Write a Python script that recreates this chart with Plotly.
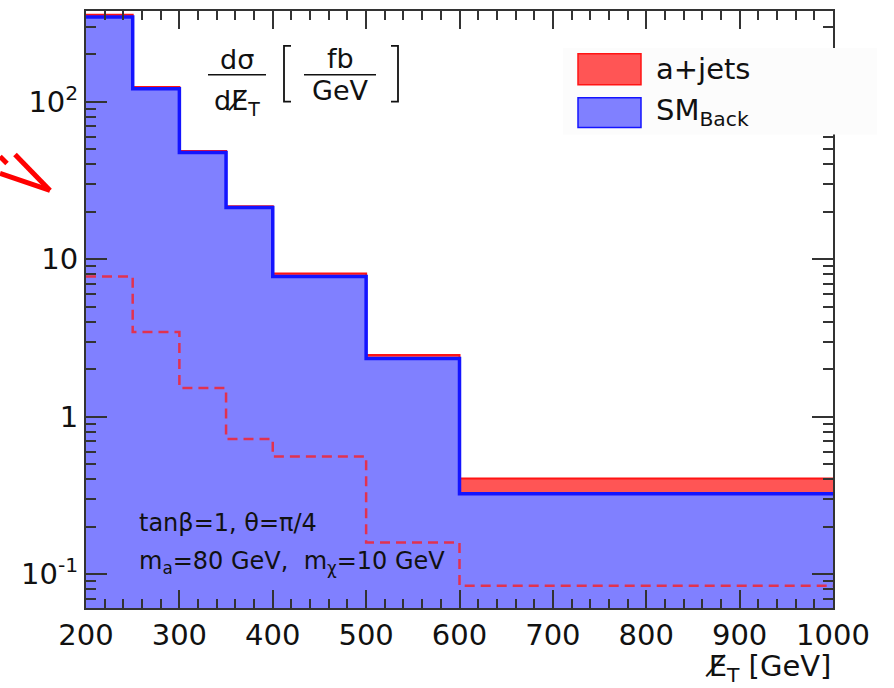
import plotly.graph_objects as go

# ---- data ----
bin_edges = [200, 250, 300, 350, 400, 500, 600, 1000]
sm_back = [345, 121, 47.5, 21.3, 7.77, 2.34, 0.324]          # SM background
total_ajets = [356, 124, 48.7, 21.7, 8.1, 2.46, 0.405]      # SM + a+jets (stacked top)
signal_ajets = [7.77, 3.45, 1.52, 0.722, 0.558, 0.159, 0.0844]  # a+jets alone (dashed)

x_ticks = [200, 300, 400, 500, 600, 700, 800, 900, 1000]
y_tickvals = [0.1, 1, 10, 100]
y_ticktext = ["10<sup>-1</sup>", "1", "10", "10<sup>2</sup>"]

FONT = "DejaVu Sans"
W, H = 894, 688
L, R, T, B = 86, 833, 9, 608


def steps(edges, vals):
    xs, ys = [], []
    for i, v in enumerate(vals):
        xs += [edges[i], edges[i + 1]]
        ys += [v, v]
    return xs, ys


def poly(edges, vals, floor=1e-4):
    xs, ys = steps(edges, vals)
    return [edges[0]] + xs + [edges[-1]], [floor] + ys + [floor]


def px(x):
    return (x - L) / (R - L)


def py(y):
    return (B - y) / (B - T)


fig = go.Figure()

tx, ty = poly(bin_edges, total_ajets)
fig.add_trace(go.Scatter(x=tx, y=ty, fill="toself", mode="lines",
                         fillcolor="rgb(255,85,85)", line=dict(width=0),
                         showlegend=False, hoverinfo="skip"))
bx, by = poly(bin_edges, sm_back)
fig.add_trace(go.Scatter(x=bx, y=by, fill="toself", mode="lines",
                         fillcolor="rgb(128,128,255)", line=dict(width=0),
                         showlegend=False, hoverinfo="skip"))
sx, sy = steps(bin_edges, total_ajets)
fig.add_trace(go.Scatter(x=sx, y=sy, mode="lines",
                         line=dict(color="rgb(255,20,20)", width=2),
                         showlegend=False, hoverinfo="skip"))
sx, sy = steps(bin_edges, sm_back)
fig.add_trace(go.Scatter(x=sx, y=sy, mode="lines",
                         line=dict(color="rgb(20,20,255)", width=3.5),
                         showlegend=False, hoverinfo="skip"))
sx, sy = steps(bin_edges, signal_ajets)
fig.add_trace(go.Scatter(x=sx, y=sy, mode="lines",
                         line=dict(color="rgb(225,50,80)", width=2.5, dash="10px,6px"),
                         showlegend=False, hoverinfo="skip"))

axcol = "#333333"
fig.update_xaxes(range=[200, 1000], tickvals=x_ticks, ticks="inside", ticklen=18,
                 tickwidth=1.5, tickcolor=axcol, showline=True, linecolor=axcol,
                 linewidth=2, mirror="ticks", showgrid=False, zeroline=False,
                 tickfont=dict(family=FONT, size=29, color="#111"),
                 minor=dict(dtick=20, ticks="inside", ticklen=9, tickwidth=1.5,
                            tickcolor=axcol, showgrid=False))
minor_y = [m * 10.0 ** e for e in range(-2, 3) for m in range(2, 10)]
fig.update_yaxes(type="log", range=[-1.215, 2.576], tickvals=y_tickvals,
                 ticktext=y_ticktext, ticks="inside", ticklen=21, tickwidth=1.5,
                 tickcolor=axcol, showline=True, linecolor=axcol, linewidth=2,
                 mirror="ticks", showgrid=False, zeroline=False,
                 tickfont=dict(family=FONT, size=29, color="#111"),
                 minor=dict(tickvals=minor_y, ticks="inside", ticklen=10,
                            tickwidth=1.5, tickcolor=axcol, showgrid=False))

shapes = []
ann = []


def text(x, y, s, size, xanchor="center", yanchor="middle"):
    ann.append(dict(x=px(x), y=py(y), xref="paper", yref="paper", text=s,
                    showarrow=False, xanchor=xanchor, yanchor=yanchor,
                    font=dict(family=FONT, size=size, color="#111")))


def line(x0, y0, x1, y1, color="#111", width=1.5):
    shapes.append(dict(type="line", xref="paper", yref="paper",
                       x0=px(x0), y0=py(y0), x1=px(x1), y1=py(y1),
                       line=dict(color=color, width=width)))


# fraction label  dσ/dE̸T [fb/GeV]
text(237, 58, "dσ", 27)
line(208, 73, 266, 73)
text(237, 101, "dE\u0338<sub>T</sub>", 27)
shapes.append(dict(type="path", xref="paper", yref="paper",
                   path=f"M {px(291)} {py(44)} L {px(284)} {py(44)} L {px(284)} {py(100)} L {px(291)} {py(100)}",
                   line=dict(color="#111", width=1.8)))
text(340, 57, "fb", 27)
line(304, 73, 376, 73)
text(340, 89, "GeV", 27)
shapes.append(dict(type="path", xref="paper", yref="paper",
                   path=f"M {px(391)} {py(44)} L {px(398)} {py(44)} L {px(398)} {py(100)} L {px(391)} {py(100)}",
                   line=dict(color="#111", width=1.8)))

# legend (manual)
shapes.append(dict(type="rect", xref="paper", yref="paper", x0=px(563), x1=px(877),
                   y0=py(46), y1=py(133), fillcolor="rgb(252,252,252)",
                   line=dict(width=0), layer="above"))
shapes.append(dict(type="rect", xref="paper", yref="paper", x0=px(578), x1=px(641),
                   y0=py(52), y1=py(83), fillcolor="rgb(255,85,85)",
                   line=dict(color="rgb(255,20,20)", width=1.5)))
shapes.append(dict(type="rect", xref="paper", yref="paper", x0=px(578), x1=px(641),
                   y0=py(96), y1=py(126), fillcolor="rgb(128,128,255)",
                   line=dict(color="rgb(20,20,255)", width=1.5)))
text(654, 67, "a+jets", 29, xanchor="left")
text(654, 110, "SM<sub>Back</sub>", 29, xanchor="left")

# parameter text
text(137, 523, "tanβ=1, θ=π/4", 24, xanchor="left")
text(137, 562, "m<sub>a</sub>=80 GeV,  m<sub>χ</sub>=10 GeV", 24, xanchor="left")

# x-axis title
text(833, 668, "E\u0338<sub>T</sub> [GeV]", 29, xanchor="right")

# red pen mark on the left
for (x0, y0, x1, y1) in [(15, 153, 50, 189), (0, 172, 50, 189), (0, 155, 7, 162)]:
    shapes.append(dict(type="line", xref="paper", yref="paper", x0=px(x0), y0=py(y0),
                       x1=px(x1), y1=py(y1), line=dict(color="rgb(255,0,0)", width=5)))

fig.update_layout(width=W, height=H, margin=dict(l=L, r=W - R, t=T, b=H - B),
                  paper_bgcolor="white", plot_bgcolor="white",
                  shapes=shapes, annotations=ann, showlegend=False)

fig.write_html("out.html")
